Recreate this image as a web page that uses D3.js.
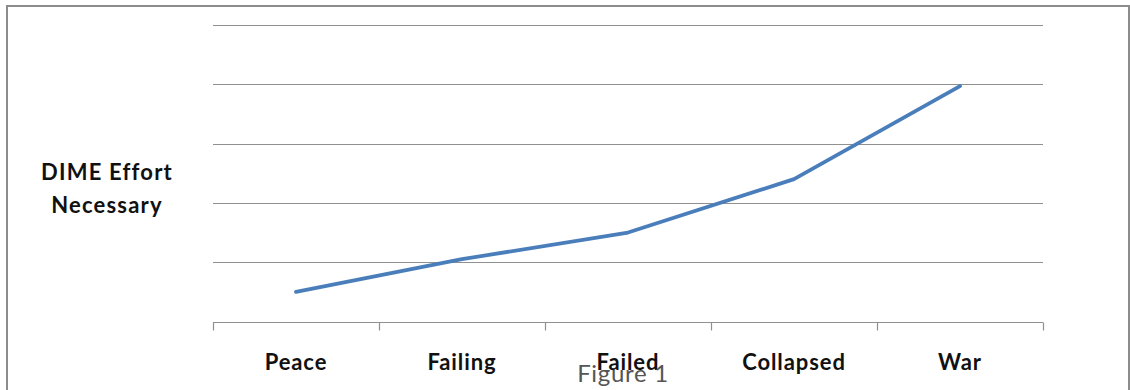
<!DOCTYPE html>
<html><head><meta charset="utf-8">
<script src="https://cdn.jsdelivr.net/npm/d3@7"></script>
<style>
html,body{margin:0;padding:0;background:#fff;}
svg{display:block;}
</style></head>
<body>
<svg id="chart" width="1130" height="390"></svg>
<script>
const categories = ["Peace", "Failing", "Failed", "Collapsed", "War"];
const effortValues = [0.5, 1.05, 1.5, 2.4, 3.97];
const yTicks = [0, 1, 2, 3, 4, 5];
const yTitleLines = ["DIME Effort", "Necessary"];
const caption = "Figure 1";

const svg = d3.select("#chart");
const plot = {left: 213, right: 1043, top: 25, bottom: 321.5};
const font = "Lato, 'Open Sans', sans-serif";

// outer frame
svg.append("rect").attr("x", 7).attr("y", 6).attr("width", 1122).attr("height", 420)
  .attr("fill", "#fff").attr("stroke", "#8c8c8c").attr("stroke-width", 2);

const x = d3.scaleBand().domain(categories).range([plot.left, plot.right]).padding(0);
const y = d3.scaleLinear().domain([0, 5]).range([plot.bottom, plot.top]);

// gridlines
svg.append("g").selectAll("line").data(yTicks.filter(d => d > 0)).join("line")
  .attr("x1", plot.left).attr("x2", plot.right)
  .attr("y1", d => Math.round(y(d)) + 0.5).attr("y2", d => Math.round(y(d)) + 0.5)
  .attr("stroke", "#909090").attr("stroke-width", 1.2);

// x axis
const xAxis = svg.append("g").attr("transform", `translate(0,${Math.round(plot.bottom) + 0.5})`);
xAxis.append("line").attr("x1", plot.left).attr("x2", plot.right)
  .attr("stroke", "#909090").attr("stroke-width", 1.2);
const tickPos = categories.map(c => x(c)).concat([plot.right]);
xAxis.selectAll("line.tick").data(tickPos).join("line").attr("class", "tick")
  .attr("x1", d => Math.round(d) + 0.5).attr("x2", d => Math.round(d) + 0.5)
  .attr("y1", 0).attr("y2", 8).attr("stroke", "#909090").attr("stroke-width", 1.2);
xAxis.selectAll("text").data(categories).join("text")
  .attr("x", d => x(d) + x.bandwidth() / 2).attr("y", 47)
  .attr("text-anchor", "middle").attr("font-family", font).attr("font-weight", "bold")
  .attr("font-size", 22).attr("letter-spacing", 0.9).attr("fill", "#111").text(d => d);

// line
const line = d3.line().x((d, i) => x(categories[i]) + x.bandwidth() / 2).y(d => y(d));
svg.append("path").datum(effortValues).attr("d", line)
  .attr("fill", "none").attr("stroke", "#4a7ebb").attr("stroke-width", 3.8)
  .attr("stroke-linejoin", "round").attr("stroke-linecap", "round");

// y title
svg.append("g").selectAll("text").data(yTitleLines).join("text")
  .attr("x", 107).attr("y", (d, i) => 180 + i * 33)
  .attr("text-anchor", "middle").attr("font-family", font).attr("font-weight", "bold")
  .attr("font-size", 22).attr("letter-spacing", 1.2).attr("fill", "#111").text(d => d);

// caption
svg.append("text").attr("x", 623).attr("y", 382).attr("text-anchor", "middle")
  .attr("font-family", font).attr("font-size", 24).attr("letter-spacing", 0.7)
  .attr("fill", "#555").text(caption);
</script>
</body></html>
